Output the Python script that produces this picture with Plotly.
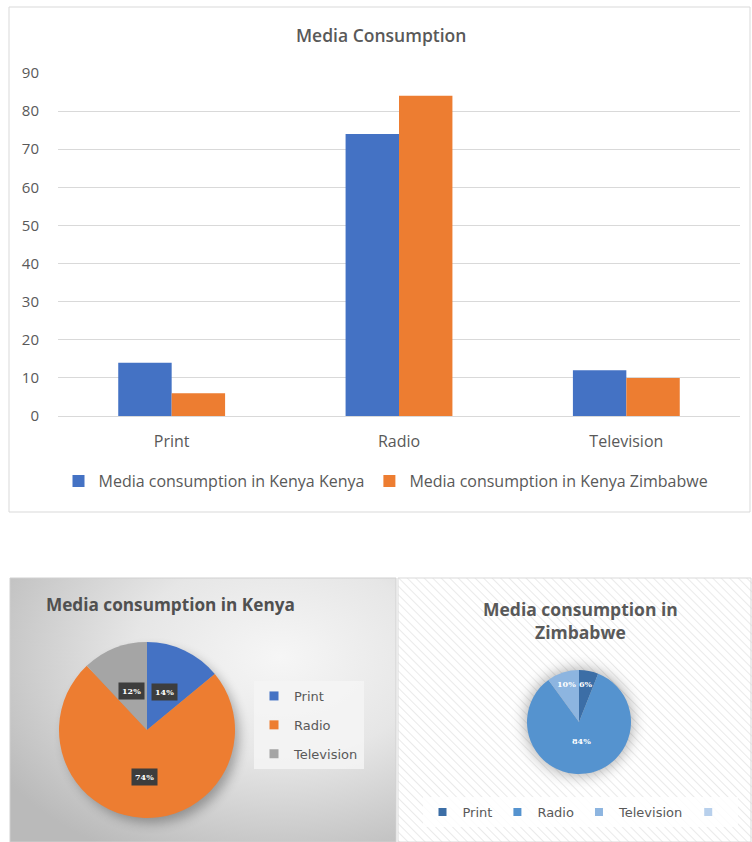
import base64
import math
import plotly.graph_objects as go

# ---- data ----
categories = ["Print", "Radio", "Television"]
kenya = [14, 74, 12]
zimbabwe = [6, 84, 10]
bar_names = ["Media consumption in Kenya Kenya", "Media consumption in Kenya Zimbabwe"]
y_ticks = [0, 10, 20, 30, 40, 50, 60, 70, 80, 90]
zim_extra_label = " "

W, H = 752, 842


def px(x):
    return x / W


def py(y):
    return 1 - y / H


def svg_uri(svg):
    return "data:image/svg+xml;base64," + base64.b64encode(svg.encode()).decode()


TXT = "#595959"
FONT = "Open Sans"
LEGFONT = "DejaVu Sans"

fig = go.Figure()

# ---- clustered bar chart ----
fig.add_bar(x=categories, y=kenya, name=bar_names[0], marker_color="#4472C4",
            marker_line_width=0)
fig.add_bar(x=categories, y=zimbabwe, name=bar_names[1], marker_color="#ED7D31",
            marker_line_width=0)

# ---- pie charts ----
kenya_colors = ["#4472C4", "#ED7D31", "#A5A5A5"]
zim_colors = ["#3C6EA6", "#5593CF", "#8DB5E0", "#B8D0EC"]

KC = (147, 730, 88)   # centre x, centre y, radius (px)
ZC = (579, 722, 52)

fig.add_pie(labels=categories, values=kenya, sort=False, direction="clockwise",
            rotation=0, textinfo="none", hoverinfo="label+percent", showlegend=False,
            marker=dict(colors=kenya_colors, line=dict(width=0)),
            domain=dict(x=[px(KC[0] - KC[2]), px(KC[0] + KC[2])],
                        y=[py(KC[1] + KC[2]), py(KC[1] - KC[2])]))
fig.add_pie(labels=categories, values=zimbabwe, sort=False,
            direction="clockwise", rotation=0, textinfo="none",
            hoverinfo="label+percent", showlegend=False,
            marker=dict(colors=zim_colors[:3], line=dict(width=0)),
            domain=dict(x=[px(ZC[0] - ZC[2]), px(ZC[0] + ZC[2])],
                        y=[py(ZC[1] + ZC[2]), py(ZC[1] - ZC[2])]))

# legend entries for the two pies (one swatch per slice)
for i, (cat, col) in enumerate(zip(categories, kenya_colors)):
    fig.add_scatter(x=[None], y=[None], mode="markers", name=cat,
                    marker=dict(symbol="square", size=9, color=col),
                    legend="legend2", legendgroup=f"kenya{i}", hoverinfo="skip")
for cat, col in zip(categories + [zim_extra_label], zim_colors):
    fig.add_scatter(x=[None], y=[None], mode="markers", name=cat,
                    marker=dict(symbol="square", size=8, color=col),
                    legend="legend3", hoverinfo="skip")


def pie_labels(values, centre, fracs, boxed):
    cx, cy, r = centre
    total = sum(values)
    start = 0
    anns = []
    for v, f in zip(values, fracs):
        mid = (start + v / 2) / total * 2 * math.pi
        start += v
        x = cx + f * r * math.sin(mid)
        y = cy - f * r * math.cos(mid)
        a = dict(x=px(x), y=py(y), xref="paper", yref="paper", showarrow=False,
                 xanchor="center", yanchor="middle",
                 text=f"<b>{round(v / total * 100)}%</b>",
                 font=dict(family="DejaVu Serif", size=8, color="white"))
        if boxed:
            a.update(bgcolor="#3d3d3d", borderpad=3)
        anns.append(a)
    return anns


annotations = []
annotations += pie_labels(kenya, KC, [0.48, 0.53, 0.48], True)
annotations += pie_labels(zimbabwe, ZC, [0.74, 0.36, 0.77], False)

annotations += [
    dict(x=px(381), y=py(35), xref="paper", yref="paper", showarrow=False,
         xanchor="center", yanchor="middle", text="Media Consumption",
         font=dict(family=FONT, size=17.5, weight=600, color=TXT)),
    dict(x=px(44), y=py(604), xref="paper", yref="paper", showarrow=False,
         xanchor="left", yanchor="middle", text="<b>Media consumption in Kenya</b>",
         font=dict(family=FONT, size=17.2, color="#505050")),
    dict(x=px(580), y=py(620), xref="paper", yref="paper", showarrow=False,
         xanchor="center", yanchor="middle", align="center",
         text="<b>Media consumption in<br>Zimbabwe</b>",
         font=dict(family=FONT, size=17.5, color=TXT)),
]

# ---- panel backgrounds ----
kenya_bg = """<svg xmlns='http://www.w3.org/2000/svg' width='386' height='264'>
<defs>
<radialGradient id='g' cx='0.7' cy='0.3' r='0.85'>
<stop offset='0' stop-color='#f6f6f6'/><stop offset='0.45' stop-color='#e6e6e6'/>
<stop offset='1' stop-color='#bababa'/></radialGradient>
<filter id='b' x='-30%' y='-30%' width='160%' height='160%'><feGaussianBlur stdDeviation='6'/></filter>
</defs>
<rect width='386' height='264' fill='url(#g)'/>
<circle cx='142' cy='158' r='87' fill='#000' opacity='0.3' filter='url(#b)'/>
</svg>"""

zim_bg = """<svg xmlns='http://www.w3.org/2000/svg' width='354' height='264'>
<defs>
<pattern id='p' width='6' height='6' patternUnits='userSpaceOnUse' patternTransform='rotate(-45)'>
<rect width='6' height='6' fill='#ffffff'/>
<line x1='0' y1='0' x2='0' y2='6' stroke='#e2e2e2' stroke-width='1.4'/></pattern>
<filter id='b' x='-40%' y='-40%' width='180%' height='180%'><feGaussianBlur stdDeviation='7'/></filter>
</defs>
<rect width='354' height='264' fill='url(#p)'/>
<circle cx='181' cy='144' r='54' fill='#555' opacity='0.45' filter='url(#b)'/>
</svg>"""

images = [
    dict(source=svg_uri(kenya_bg), xref="paper", yref="paper", x=px(10), y=py(578),
         sizex=386 / W, sizey=264 / H, xanchor="left", yanchor="top",
         sizing="stretch", layer="below"),
    dict(source=svg_uri(zim_bg), xref="paper", yref="paper", x=px(398), y=py(578),
         sizex=354 / W, sizey=264 / H, xanchor="left", yanchor="top",
         sizing="stretch", layer="below"),
]

shapes = [
    dict(type="rect", xref="paper", yref="paper", x0=px(9), x1=px(750), y0=py(512),
         y1=py(7), line=dict(color="#d9d9d9", width=1), fillcolor="rgba(0,0,0,0)"),
    dict(type="rect", xref="paper", yref="paper", x0=px(10), x1=px(396), y0=py(842),
         y1=py(578), line=dict(color="#d0d0d0", width=1), fillcolor="rgba(0,0,0,0)"),
    dict(type="rect", xref="paper", yref="paper", x0=px(398), x1=px(751), y0=py(842),
         y1=py(578), line=dict(color="#d9d9d9", width=1), fillcolor="rgba(0,0,0,0)"),
]

fig.update_layout(
    width=W, height=H, margin=dict(l=0, r=0, t=0, b=0, autoexpand=False),
    paper_bgcolor="white", plot_bgcolor="white",
    barmode="group", bargap=0.53, bargroupgap=0,
    font=dict(family=FONT, color=TXT, size=15),
    xaxis=dict(domain=[px(58), px(740)], showgrid=False, zeroline=False,
               showline=True, linecolor="#d9d9d9", ticks="", ticklabelstandoff=11,
               tickfont=dict(size=16, color=TXT), fixedrange=True, automargin=False),
    yaxis=dict(domain=[py(416), py(73)], range=[0, 90], tickvals=y_ticks,
               showgrid=True, gridcolor="#d9d9d9", gridwidth=1, zeroline=False,
               showline=False, ticks="", ticklabelstandoff=18,
               tickfont=dict(size=15, color=TXT), fixedrange=True, automargin=False),
    legend=dict(orientation="h", x=px(386), xanchor="center", y=py(481),
                yanchor="middle", font=dict(size=16, color=TXT), itemwidth=30,
                bgcolor="rgba(0,0,0,0)", traceorder="normal"),
    legend2=dict(x=px(254), xanchor="left", y=py(681), yanchor="top",
                 font=dict(family=LEGFONT, size=13, color=TXT), itemwidth=30,
                 bgcolor="rgba(244,244,244,0.85)", tracegroupgap=9,
                 traceorder="grouped"),
    legend3=dict(orientation="h", x=px(580), xanchor="center", y=py(812),
                 yanchor="middle", font=dict(family=LEGFONT, size=13, color=TXT),
                 itemwidth=30, bgcolor="rgba(255,255,255,0.85)", traceorder="normal"),
    annotations=annotations, shapes=shapes, images=images,
    showlegend=True,
)

fig.write_html("out.html")
